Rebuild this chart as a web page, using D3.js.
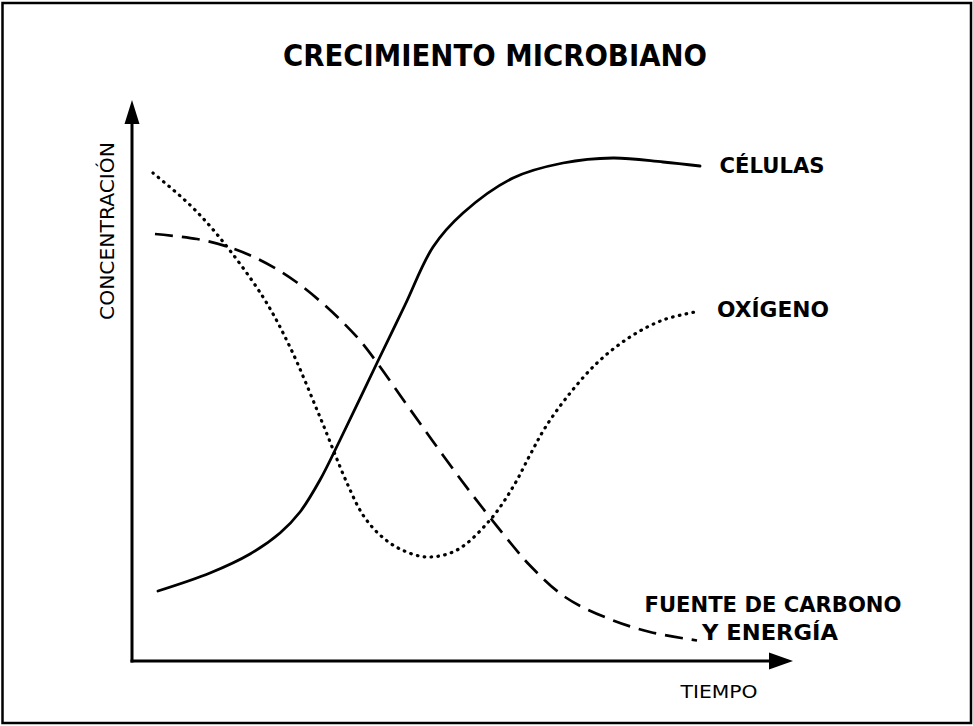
<!DOCTYPE html>
<html>
<head>
<meta charset="utf-8">
<script src="https://cdn.jsdelivr.net/npm/d3@7"></script>
<style>
  html, body { margin: 0; padding: 0; background: #fff; }
  svg { display: block; }
</style>
</head>
<body>
<svg id="chart" width="973" height="726"></svg>
<script>
// ---- Data (time in arbitrary units, concentration in arbitrary units) ----
const titleText = "CRECIMIENTO MICROBIANO";
const xAxisLabel = "TIEMPO";
const yAxisLabel = "CONCENTRACIÓN";

const celulasTime = [4.33, 13, 19.67, 24.67, 28, 31.33, 34.67, 40.83, 45.5, 50.17, 55.17, 63.5, 71.83, 80.17, 88.5, 94.67];
const celulasConc = [14, 17.6, 21.4, 25.6, 29.8, 36.2, 44.2, 59.6, 71.2, 82.8, 89.6, 96.6, 99.6, 100.6, 99.8, 99];

const oxigenoTime = [3.5, 9.67, 14.67, 21.83, 26.33, 31.33, 35.83, 38.5, 41.33, 44.67, 49.17, 54.17, 59.67, 63.5, 66.33, 68.83, 72.5, 77.5, 83, 88.5, 93.83];
const oxigenoConc = [97.6, 91.2, 84.6, 72.8, 62.8, 48.8, 35.6, 29.2, 25.2, 22.4, 20.8, 22.2, 28.2, 34.8, 41.2, 46.6, 52.8, 59.6, 64.8, 68.2, 69.8];

const carbonoTime = [3.83, 10.83, 15.83, 19.67, 24.17, 27.5, 31.33, 34.67, 38, 40.83, 45.83, 50.17, 54.67, 58.5, 63.5, 66.33, 72.17, 79.17, 86.33, 94.17];
const carbonoConc = [85.4, 84.4, 82.9, 81.14, 78.34, 75.7, 72, 68.3, 64.1, 59.7, 51.2, 43.9, 36.5, 30.5, 23, 19.1, 12.8, 8.6, 5.8, 4.1];

const seriesNames = ["CÉLULAS", "OXÍGENO", ["FUENTE DE CARBONO", "Y ENERGÍA"]];

// ---- Layout ----
const svg = d3.select("#chart");
const x = d3.scaleLinear().domain([0, 110]).range([132, 792]);
const y = d3.scaleLinear().domain([0, 112]).range([661, 101]);

// frame
svg.append("rect")
  .attr("x", 2.5).attr("y", 3).attr("width", 968.5).attr("height", 720)
  .attr("fill", "none").attr("stroke", "#000").attr("stroke-width", 2.5);

// title
svg.append("text")
  .attr("x", 495).attr("y", 66)
  .attr("text-anchor", "middle")
  .attr("font-family", "DejaVu Sans, Verdana, sans-serif")
  .attr("font-weight", "bold")
  .attr("font-size", 31)
  .attr("textLength", 424)
  .attr("lengthAdjust", "spacingAndGlyphs")
  .text(titleText);

// axes with arrowheads
const x0 = x.range()[0], x1 = x.range()[1];
const y0 = y.range()[0], y1 = y.range()[1];
svg.append("line")
  .attr("x1", x0).attr("y1", y0 + 1.5).attr("x2", x0).attr("y2", y1 + 20)
  .attr("stroke", "#000").attr("stroke-width", 3);
svg.append("line")
  .attr("x1", x0 - 1.5).attr("y1", y0).attr("x2", x1 - 20).attr("y2", y0)
  .attr("stroke", "#000").attr("stroke-width", 3);
svg.append("path")
  .attr("d", `M${x0},${y1 - 1} L${x0 - 7.5},${y1 + 23} L${x0 + 7.5},${y1 + 23} Z`)
  .attr("fill", "#000");
svg.append("path")
  .attr("d", `M${x1 + 1},${y0} L${x1 - 23},${y0 - 8.5} L${x1 - 23},${y0 + 8.5} Z`)
  .attr("fill", "#000");

// axis labels
svg.append("text")
  .attr("x", 719).attr("y", 698)
  .attr("text-anchor", "middle")
  .attr("font-family", "DejaVu Sans, Verdana, sans-serif")
  .attr("font-size", 18)
  .attr("textLength", 77)
  .attr("lengthAdjust", "spacingAndGlyphs")
  .text(xAxisLabel);
svg.append("text")
  .attr("transform", "translate(114,231) rotate(-90)")
  .attr("text-anchor", "middle")
  .attr("font-family", "DejaVu Sans, Verdana, sans-serif")
  .attr("font-size", 20)
  .attr("textLength", 178)
  .attr("lengthAdjust", "spacingAndGlyphs")
  .text(yAxisLabel);

// curves
const line = d3.line()
  .x(d => x(d[0])).y(d => y(d[1]))
  .curve(d3.curveCatmullRom.alpha(0.5));

const cel = celulasTime.map((t, i) => [t, celulasConc[i]]);
const oxi = oxigenoTime.map((t, i) => [t, oxigenoConc[i]]);
const car = carbonoTime.map((t, i) => [t, carbonoConc[i]]);

svg.append("path").datum(car)
  .attr("d", line).attr("fill", "none").attr("stroke", "#000")
  .attr("stroke-width", 2.7).attr("stroke-dasharray", "18,9");
svg.append("path").datum(oxi)
  .attr("d", line).attr("fill", "none").attr("stroke", "#000")
  .attr("stroke-width", 3.2).attr("stroke-linecap", "round")
  .attr("stroke-dasharray", "0.6,6.3");
svg.append("path").datum(cel)
  .attr("d", line).attr("fill", "none").attr("stroke", "#000")
  .attr("stroke-width", 2.8).attr("stroke-linecap", "round");

// series labels
const lab = (txt, cx, by, len) => svg.append("text")
  .attr("x", cx).attr("y", by)
  .attr("text-anchor", "middle")
  .attr("font-family", "DejaVu Sans, Verdana, sans-serif")
  .attr("font-weight", "bold")
  .attr("font-size", 21)
  .attr("textLength", len)
  .attr("lengthAdjust", "spacingAndGlyphs")
  .text(txt);

lab(seriesNames[0], 772, 173, 105);
lab(seriesNames[1], 773, 317, 112);
lab(seriesNames[2][0], 773, 612, 257);
lab(seriesNames[2][1], 770, 640, 136);
</script>
</body>
</html>
